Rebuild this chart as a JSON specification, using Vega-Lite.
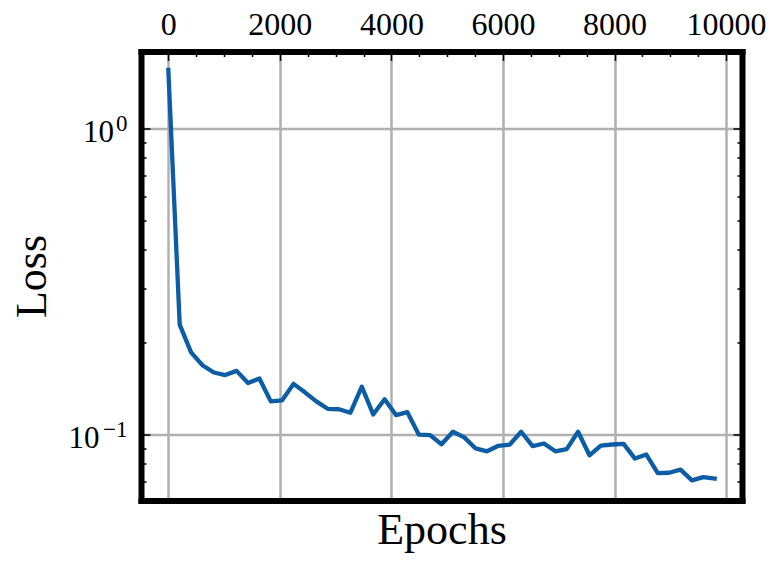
{
  "$schema": "https://vega.github.io/schema/vega-lite/v6.json",
  "width": 601,
  "height": 449,
  "autosize": {"type": "none"},
  "padding": {"left": 141, "top": 51.5, "right": 38, "bottom": 61.5},
  "background": "white",
  "config": {
    "view": {"stroke": null},
    "font": "Liberation Serif",
    "axis": {
      "labelFont": "Liberation Serif",
      "titleFont": "Liberation Serif",
      "labelColor": "black",
      "titleColor": "black",
      "tickColor": "black",
      "tickWidth": 1.5,
      "domainColor": "black",
      "domainWidth": 6,
      "domainCap": "square",
      "titleFontWeight": "normal",
      "labelFontSize": 32,
      "titleFontSize": 44
    }
  },
  "data": {
    "values": [
      {"epoch": 0, "loss": 1.55},
      {"epoch": 204, "loss": 0.228},
      {"epoch": 408, "loss": 0.185},
      {"epoch": 612, "loss": 0.168},
      {"epoch": 816, "loss": 0.159},
      {"epoch": 1020, "loss": 0.156},
      {"epoch": 1224, "loss": 0.161},
      {"epoch": 1429, "loss": 0.147},
      {"epoch": 1633, "loss": 0.152},
      {"epoch": 1837, "loss": 0.128},
      {"epoch": 2041, "loss": 0.129},
      {"epoch": 2245, "loss": 0.146},
      {"epoch": 2449, "loss": 0.137},
      {"epoch": 2653, "loss": 0.128},
      {"epoch": 2857, "loss": 0.121},
      {"epoch": 3061, "loss": 0.1206},
      {"epoch": 3265, "loss": 0.1175},
      {"epoch": 3469, "loss": 0.143},
      {"epoch": 3673, "loss": 0.116},
      {"epoch": 3878, "loss": 0.130},
      {"epoch": 4082, "loss": 0.1154},
      {"epoch": 4286, "loss": 0.118},
      {"epoch": 4490, "loss": 0.0997},
      {"epoch": 4694, "loss": 0.0993},
      {"epoch": 4898, "loss": 0.0927},
      {"epoch": 5102, "loss": 0.1018},
      {"epoch": 5306, "loss": 0.0976},
      {"epoch": 5510, "loss": 0.0898},
      {"epoch": 5714, "loss": 0.0879},
      {"epoch": 5918, "loss": 0.0916},
      {"epoch": 6122, "loss": 0.0925},
      {"epoch": 6327, "loss": 0.1018},
      {"epoch": 6531, "loss": 0.0914},
      {"epoch": 6735, "loss": 0.0932},
      {"epoch": 6939, "loss": 0.0879},
      {"epoch": 7143, "loss": 0.0893},
      {"epoch": 7347, "loss": 0.1018},
      {"epoch": 7551, "loss": 0.0853},
      {"epoch": 7755, "loss": 0.0918},
      {"epoch": 7959, "loss": 0.0925},
      {"epoch": 8163, "loss": 0.0929},
      {"epoch": 8367, "loss": 0.0832},
      {"epoch": 8571, "loss": 0.0858},
      {"epoch": 8776, "loss": 0.0746},
      {"epoch": 8980, "loss": 0.0748},
      {"epoch": 9184, "loss": 0.0766},
      {"epoch": 9388, "loss": 0.0706},
      {"epoch": 9592, "loss": 0.0724},
      {"epoch": 9796, "loss": 0.0716}
    ]
  },
  "layer": [
    {
      "mark": {"type": "line", "opacity": 0},
      "encoding": {
        "x": {"field": "epoch", "type": "quantitative",
          "scale": {"domain": [-490, 10286], "nice": false, "zero": false},
          "axis": {"orient": "top", "values": [0, 2000, 4000, 6000, 8000, 10000], "grid": true, "gridColor": "#b0b0b0", "gridWidth": 2.5, "gridOpacity": 1, "labels": false, "ticks": false, "domain": false, "title": null, "zindex": 0}},
        "y": {"field": "loss", "type": "quantitative",
          "scale": {"type": "log", "domain": [0.0607, 1.78], "nice": false},
          "axis": {"orient": "left", "values": [0.1, 1], "grid": true, "gridColor": "#b0b0b0", "gridWidth": 2.5, "gridOpacity": 1, "labels": true, "labelExpr": "datum.value < 0.5 ? '10' : ''", "labelFontSize": 31, "labelAlign": "right", "labelBaseline": "alphabetic", "labelOffset": 13, "labelPadding": 42, "ticks": false, "domain": false, "title": null, "zindex": 0}}
      }
    },
    {
      "mark": {"type": "line", "color": "#0C5DA5", "strokeWidth": 4.3, "strokeJoin": "round", "strokeCap": "square"},
      "encoding": {
        "x": {"field": "epoch", "type": "quantitative",
          "scale": {"domain": [-490, 10286], "nice": false, "zero": false},
          "axis": {"orient": "top", "values": [0, 2000, 4000, 6000, 8000, 10000], "format": "d", "grid": false, "tickSize": -9, "labelPadding": 25.7, "labelBaseline": "alphabetic", "domain": true, "title": null, "zindex": 1}},
        "y": {"field": "loss", "type": "quantitative",
          "scale": {"type": "log", "domain": [0.0607, 1.78], "nice": false},
          "axis": {"orient": "left", "values": [0.1, 1], "labelExpr": "datum.value > 0.5 ? '10' : ''", "labelFontSize": 31, "labelAlign": "right", "labelBaseline": "alphabetic", "labelOffset": 13, "grid": false, "tickSize": -9, "labelPadding": 36.4, "domain": true, "title": "Loss", "titleX": -96, "titleY": 224.5, "titleAngle": -90, "titleBaseline": "alphabetic", "titleAlign": "center", "zindex": 1}}
      }
    },
    {
      "mark": {"type": "line", "opacity": 0},
      "encoding": {
        "x": {"field": "epoch", "type": "quantitative",
          "scale": {"domain": [-490, 10286], "nice": false, "zero": false},
          "axis": {"orient": "top", "values": [500, 1000, 1500, 2500, 3000, 3500, 4500, 5000, 5500, 6500, 7000, 7500, 8500, 9000, 9500], "grid": false, "labels": false, "tickSize": -5, "domain": false, "title": null, "zindex": 1}},
        "y": {"field": "loss", "type": "quantitative",
          "scale": {"type": "log", "domain": [0.0607, 1.78], "nice": false},
          "axis": {"orient": "left", "values": [0.07, 0.08, 0.09, 0.2, 0.3, 0.4, 0.5, 0.6, 0.7, 0.8, 0.9], "grid": false, "labels": false, "tickSize": -5, "domain": false, "title": null, "zindex": 1}}
      }
    },
    {
      "mark": {"type": "line", "opacity": 0},
      "encoding": {
        "x": {"field": "epoch", "type": "quantitative",
          "scale": {"domain": [-490, 10286], "nice": false, "zero": false},
          "axis": {"orient": "bottom", "grid": false, "labels": false, "ticks": false, "domain": true, "title": "Epochs", "titleX": 300.5, "titleY": 42.7, "titleBaseline": "alphabetic", "titleAlign": "center", "zindex": 1}},
        "y": {"field": "loss", "type": "quantitative",
          "scale": {"type": "log", "domain": [0.0607, 1.78], "nice": false},
          "axis": {"orient": "right", "values": [0.1, 1], "grid": false, "labels": false, "tickSize": -9, "domain": true, "title": null, "zindex": 1}}
      }
    },
    {
      "mark": {"type": "line", "opacity": 0},
      "encoding": {
        "x": {"field": "epoch", "type": "quantitative",
          "scale": {"domain": [-490, 10286], "nice": false, "zero": false},
          "axis": null},
        "y": {"field": "loss", "type": "quantitative",
          "scale": {"type": "log", "domain": [0.0607, 1.78], "nice": false},
          "axis": {"orient": "right", "values": [0.07, 0.08, 0.09, 0.2, 0.3, 0.4, 0.5, 0.6, 0.7, 0.8, 0.9], "grid": false, "labels": false, "tickSize": -5, "domain": false, "title": null, "zindex": 1}}
      }
    },
    {
      "mark": {"type": "line", "opacity": 0},
      "encoding": {
        "x": {"field": "epoch", "type": "quantitative",
          "scale": {"domain": [-490, 10286], "nice": false, "zero": false},
          "axis": null},
        "y": {"field": "loss", "type": "quantitative",
          "scale": {"type": "log", "domain": [0.0607, 1.78], "nice": false},
          "axis": {"orient": "left", "values": [0.1, 1], "grid": false, "labels": true, "labelExpr": "datum.value > 0.5 ? '0' : '\u22121'", "labelFontSize": 23, "labelAlign": "right", "labelBaseline": "alphabetic", "labelOffset": 2.5, "labelPadding": 14, "ticks": false, "domain": false, "title": null, "zindex": 1}}
      }
    }
  ],
  "resolve": {"axis": {"x": "independent", "y": "independent"}}
}
